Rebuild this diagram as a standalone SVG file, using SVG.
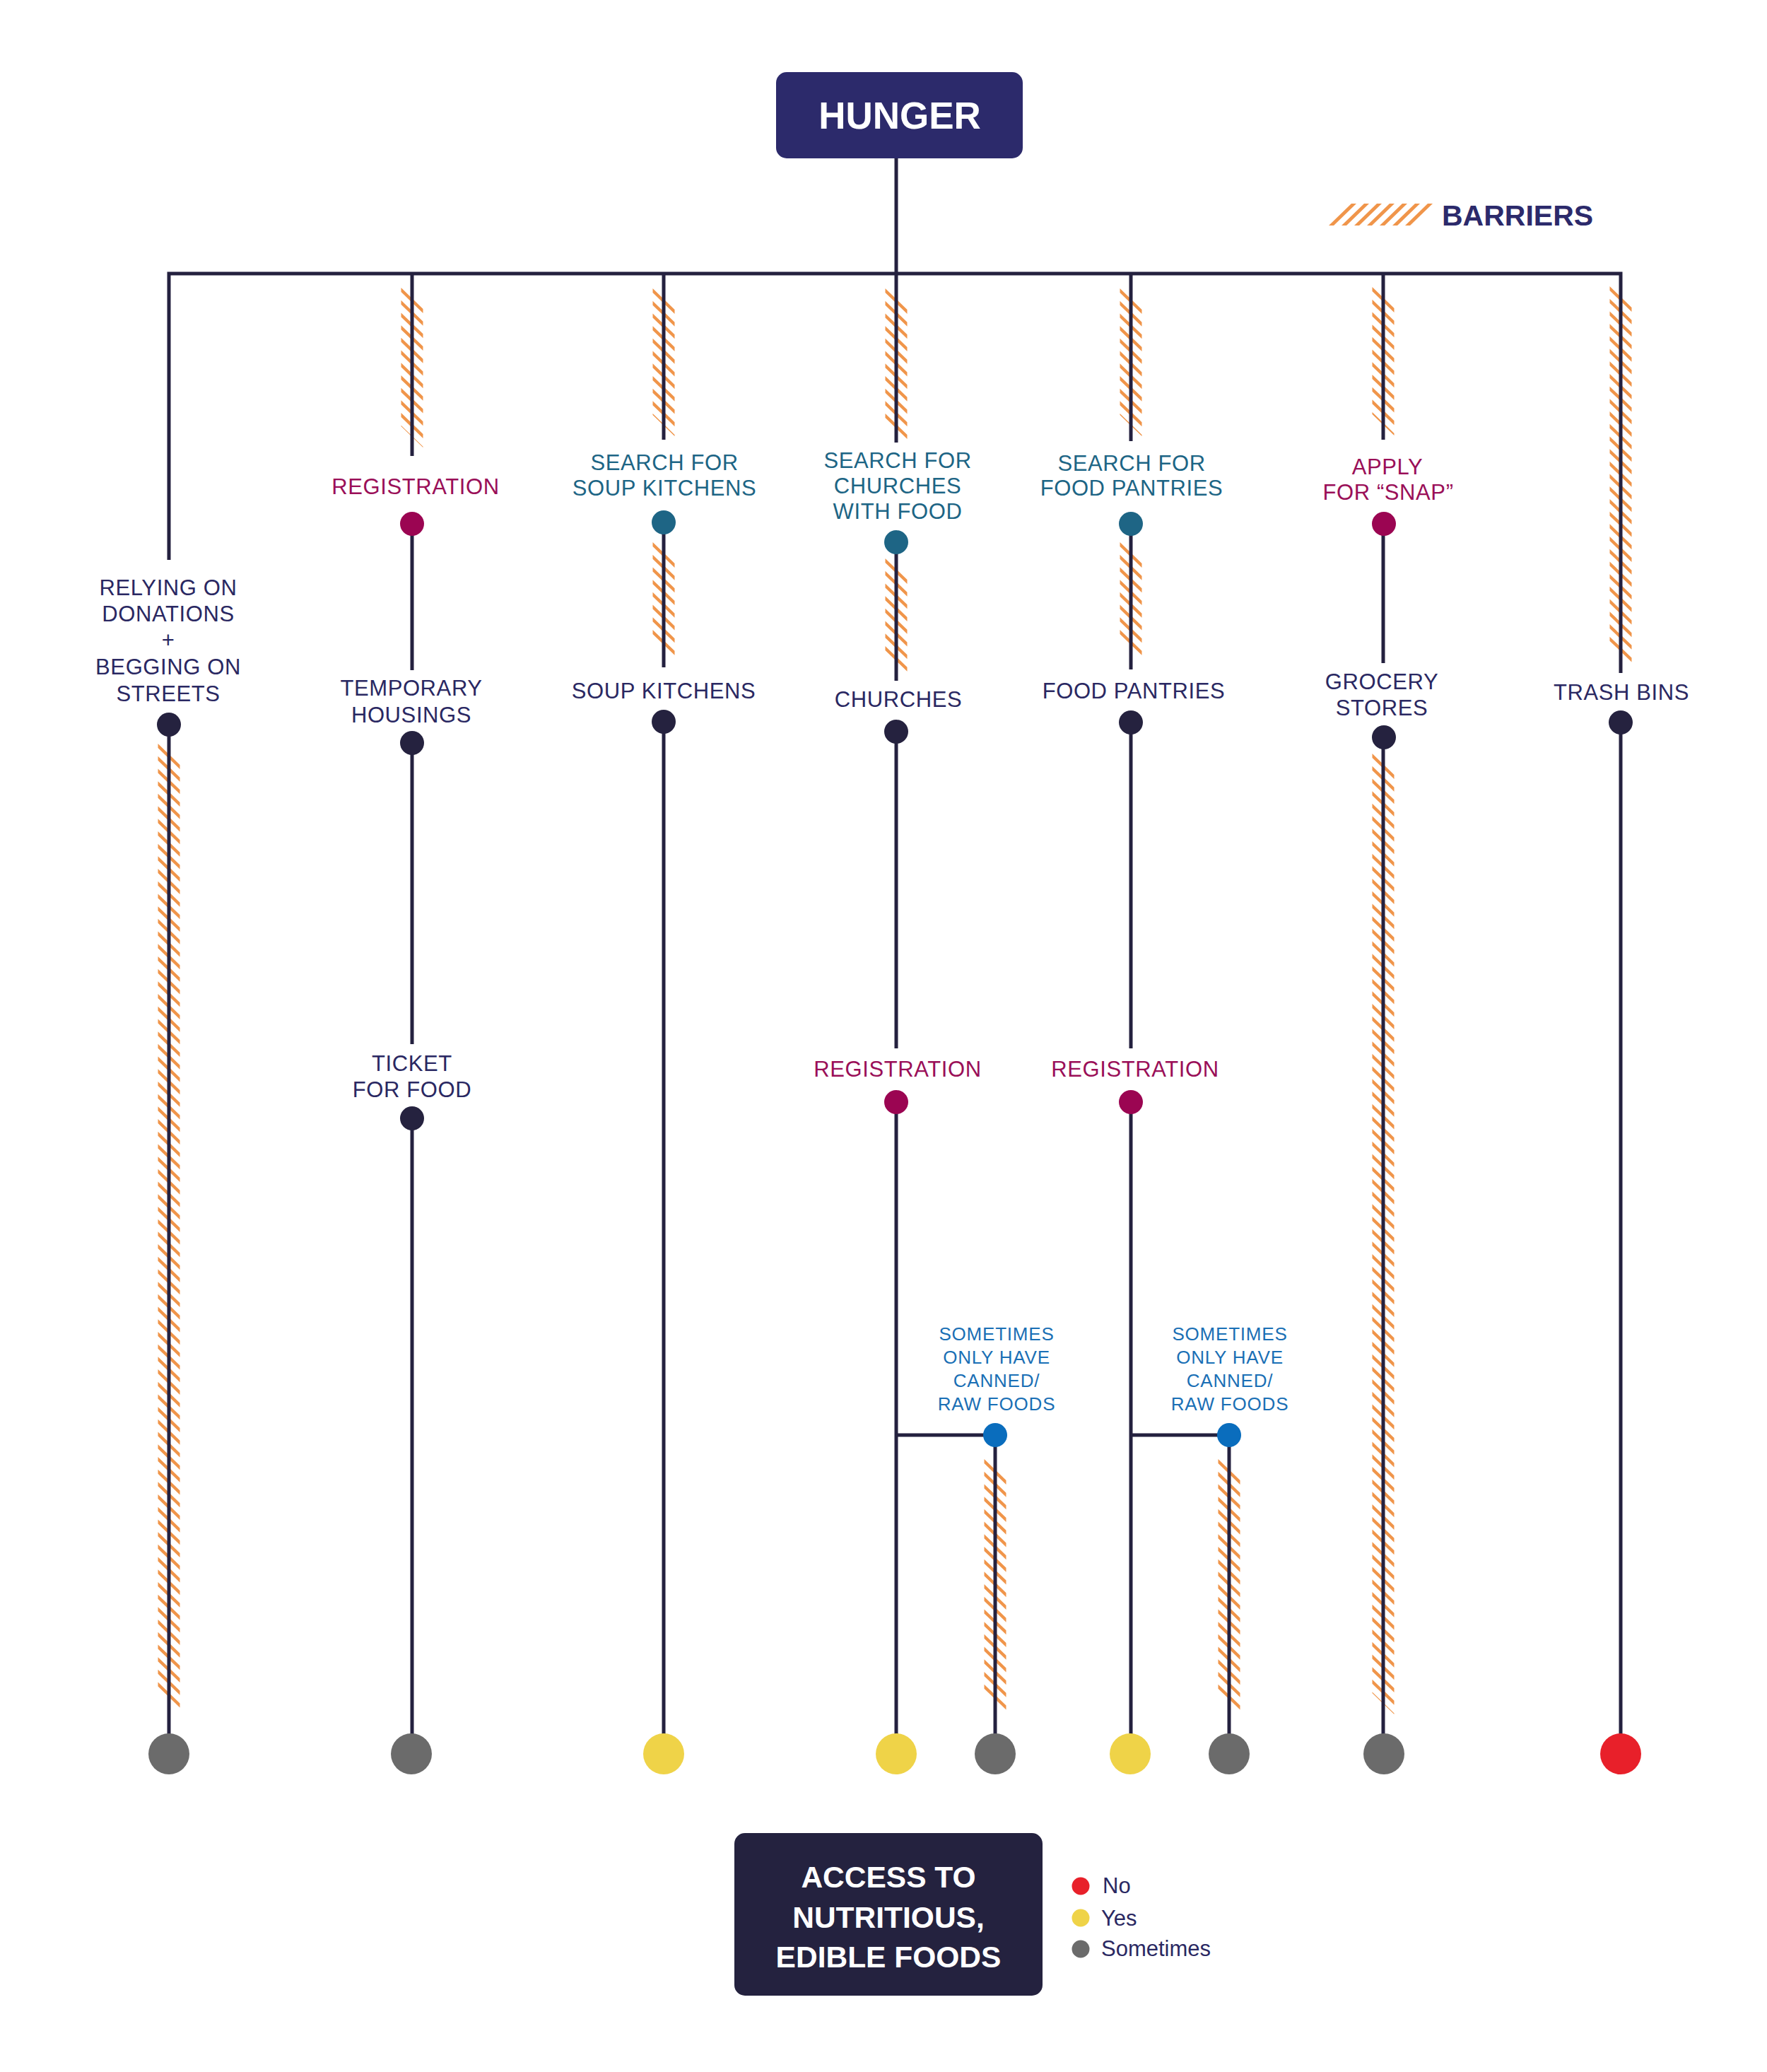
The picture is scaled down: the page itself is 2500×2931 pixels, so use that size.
<svg xmlns="http://www.w3.org/2000/svg" width="2500" height="2931" viewBox="0 0 2500 2931">
<style>
text{font-family:"Liberation Sans",Arial,Helvetica,sans-serif}
.lbl{font-size:31px;letter-spacing:0.6px;text-anchor:middle}
.navy{fill:#2a2862}
.mag{fill:#9a0f58}
.teal{fill:#1d6585}
.blue{fill:#1a6fb5;font-size:26px;letter-spacing:0.8px;text-anchor:middle}
.ln{stroke:#24213f;stroke-width:5;fill:none;stroke-linecap:butt}
.hatch{stroke:#f0954a;stroke-width:31;stroke-dasharray:6 11.7;fill:none}
.dk{fill:#25223f}
.mg{fill:#9b0552}
.tl{fill:#1e6585}
.bl{fill:#0a6dbd}
.gray{fill:#6b6b6b}
.yel{fill:#efd348}
.red{fill:#e8202a}
.box{fill:#2c2a6b}
.box2{fill:#24223f}
.boxt{fill:#ffffff;font-weight:bold;text-anchor:middle}
.leg{fill:#2a2862;font-size:31px}
.bar{fill:#f0954a}
</style>

<g id="barriers">
<line class="hatch" x1="239" y1="1067" x2="239" y2="2410" transform="translate(239 0) skewY(44) translate(-239 0)"/>
<line class="hatch" x1="583" y1="422" x2="583" y2="618" transform="translate(583 0) skewY(44) translate(-583 0)"/>
<line class="hatch" x1="939" y1="423" x2="939" y2="602" transform="translate(939 0) skewY(44) translate(-939 0)"/>
<line class="hatch" x1="939" y1="782" x2="939" y2="916" transform="translate(939 0) skewY(44) translate(-939 0)"/>
<line class="hatch" x1="1268" y1="423" x2="1268" y2="607" transform="translate(1268 0) skewY(44) translate(-1268 0)"/>
<line class="hatch" x1="1268" y1="805" x2="1268" y2="938" transform="translate(1268 0) skewY(44) translate(-1268 0)"/>
<line class="hatch" x1="1600" y1="423" x2="1600" y2="602" transform="translate(1600 0) skewY(44) translate(-1600 0)"/>
<line class="hatch" x1="1600" y1="782" x2="1600" y2="915" transform="translate(1600 0) skewY(44) translate(-1600 0)"/>
<line class="hatch" x1="1957" y1="421" x2="1957" y2="601" transform="translate(1957 0) skewY(44) translate(-1957 0)"/>
<line class="hatch" x1="1957" y1="1081" x2="1957" y2="2410" transform="translate(1957 0) skewY(44) translate(-1957 0)"/>
<line class="hatch" x1="2293" y1="420" x2="2293" y2="932" transform="translate(2293 0) skewY(44) translate(-2293 0)"/>
<line class="hatch" x1="1408" y1="2079" x2="1408" y2="2415" transform="translate(1408 0) skewY(44) translate(-1408 0)"/>
<line class="hatch" x1="1739" y1="2079" x2="1739" y2="2415" transform="translate(1739 0) skewY(44) translate(-1739 0)"/>
</g>

<g id="connectors">
<line class="ln" x1="1268" y1="224" x2="1268" y2="387"/>
<path class="ln" d="M239 792 V387 H2293 V952" stroke-linejoin="miter"/>
<line class="ln" x1="583" y1="387" x2="583" y2="645"/>
<line class="ln" x1="939" y1="387" x2="939" y2="622"/>
<line class="ln" x1="1268" y1="387" x2="1268" y2="626"/>
<line class="ln" x1="1600" y1="387" x2="1600" y2="624"/>
<line class="ln" x1="1957" y1="387" x2="1957" y2="622"/>
<line class="ln" x1="239" y1="1025" x2="239" y2="2481"/>
<line class="ln" x1="583" y1="741" x2="583" y2="948"/>
<line class="ln" x1="583" y1="1051" x2="583" y2="1477"/>
<line class="ln" x1="583" y1="1582" x2="583" y2="2481"/>
<line class="ln" x1="939" y1="739" x2="939" y2="944"/>
<line class="ln" x1="939" y1="1021" x2="939" y2="2481"/>
<line class="ln" x1="1268" y1="767" x2="1268" y2="963"/>
<line class="ln" x1="1268" y1="1035" x2="1268" y2="1483"/>
<line class="ln" x1="1268" y1="1559" x2="1268" y2="2481"/>
<path class="ln" d="M1268 2030 H1408 V2481"/>
<line class="ln" x1="1600" y1="741" x2="1600" y2="947"/>
<line class="ln" x1="1600" y1="1022" x2="1600" y2="1483"/>
<line class="ln" x1="1600" y1="1559" x2="1600" y2="2481"/>
<path class="ln" d="M1600 2030 H1739 V2481"/>
<line class="ln" x1="1957" y1="741" x2="1957" y2="938"/>
<line class="ln" x1="1957" y1="1043" x2="1957" y2="2481"/>
<line class="ln" x1="2293" y1="1022" x2="2293" y2="2481"/>
</g>

<g id="hunger">
<rect class="box" x="1098" y="102" width="349" height="122" rx="15"/>
<text class="boxt" x="1273" y="182" font-size="53">HUNGER</text>
</g>

<g id="legend-barriers">
<polygon class="bar" points="1880,319 1887,319 1919,288 1912,288"/>
<polygon class="bar" points="1898,319 1905,319 1937,288 1930,288"/>
<polygon class="bar" points="1916,319 1923,319 1955,288 1948,288"/>
<polygon class="bar" points="1934,319 1941,319 1973,288 1966,288"/>
<polygon class="bar" points="1952,319 1959,319 1991,288 1984,288"/>
<polygon class="bar" points="1970,319 1977,319 2009,288 2002,288"/>
<polygon class="bar" points="1988,319 1995,319 2027,288 2020,288"/>
<text x="2040" y="319" font-size="41" font-weight="bold" fill="#2c2a6b">BARRIERS</text>
</g>

<g id="relying">
<text class="lbl navy" x="238" y="842">RELYING ON</text>
<text class="lbl navy" x="238" y="879">DONATIONS</text>
<text class="lbl navy" x="238" y="916">+</text>
<text class="lbl navy" x="238" y="954">BEGGING ON</text>
<text class="lbl navy" x="238" y="992">STREETS</text>
<circle class="dk" cx="239" cy="1025" r="17"/>
</g>

<g id="registration-1">
<text class="lbl mag" x="588" y="699">REGISTRATION</text>
<circle class="mg" cx="583" cy="741" r="17"/>
</g>
<g id="temporary-housings">
<text class="lbl navy" x="582" y="984">TEMPORARY</text>
<text class="lbl navy" x="582" y="1022">HOUSINGS</text>
<circle class="dk" cx="583" cy="1051" r="17"/>
</g>
<g id="ticket-for-food">
<text class="lbl navy" x="583" y="1515">TICKET</text>
<text class="lbl navy" x="583" y="1552">FOR FOOD</text>
<circle class="dk" cx="583" cy="1582" r="17"/>
</g>

<g id="search-soup">
<text class="lbl teal" x="940" y="665">SEARCH FOR</text>
<text class="lbl teal" x="940" y="701">SOUP KITCHENS</text>
<circle class="tl" cx="939" cy="739" r="17"/>
</g>
<g id="soup-kitchens">
<text class="lbl navy" x="939" y="988">SOUP KITCHENS</text>
<circle class="dk" cx="939" cy="1021" r="17"/>
</g>

<g id="search-churches">
<text class="lbl teal" x="1270" y="662">SEARCH FOR</text>
<text class="lbl teal" x="1270" y="698">CHURCHES</text>
<text class="lbl teal" x="1270" y="734">WITH FOOD</text>
<circle class="tl" cx="1268" cy="767" r="17"/>
</g>
<g id="churches">
<text class="lbl navy" x="1271" y="1000">CHURCHES</text>
<circle class="dk" cx="1268" cy="1035" r="17"/>
</g>
<g id="registration-2">
<text class="lbl mag" x="1270" y="1523">REGISTRATION</text>
<circle class="mg" cx="1268" cy="1559" r="17"/>
</g>
<g id="canned-1">
<text class="blue" x="1410" y="1896">SOMETIMES</text>
<text class="blue" x="1410" y="1929">ONLY HAVE</text>
<text class="blue" x="1410" y="1962">CANNED/</text>
<text class="blue" x="1410" y="1995">RAW FOODS</text>
<circle class="bl" cx="1408" cy="2030" r="17"/>
</g>

<g id="search-pantries">
<text class="lbl teal" x="1601" y="666">SEARCH FOR</text>
<text class="lbl teal" x="1601" y="701">FOOD PANTRIES</text>
<circle class="tl" cx="1600" cy="741" r="17"/>
</g>
<g id="food-pantries">
<text class="lbl navy" x="1604" y="988">FOOD PANTRIES</text>
<circle class="dk" cx="1600" cy="1022" r="17"/>
</g>
<g id="registration-3">
<text class="lbl mag" x="1606" y="1523">REGISTRATION</text>
<circle class="mg" cx="1600" cy="1559" r="17"/>
</g>
<g id="canned-2">
<text class="blue" x="1740" y="1896">SOMETIMES</text>
<text class="blue" x="1740" y="1929">ONLY HAVE</text>
<text class="blue" x="1740" y="1962">CANNED/</text>
<text class="blue" x="1740" y="1995">RAW FOODS</text>
<circle class="bl" cx="1739" cy="2030" r="17"/>
</g>

<g id="apply-snap">
<text class="lbl mag" x="1963" y="671">APPLY</text>
<text class="lbl mag" x="1964" y="707">FOR “SNAP”</text>
<circle class="mg" cx="1958" cy="741" r="17"/>
</g>
<g id="grocery-stores">
<text class="lbl navy" x="1955" y="975">GROCERY</text>
<text class="lbl navy" x="1955" y="1012">STORES</text>
<circle class="dk" cx="1958" cy="1043" r="17"/>
</g>

<g id="trash-bins">
<text class="lbl navy" x="2294" y="990">TRASH BINS</text>
<circle class="dk" cx="2293" cy="1022" r="17"/>
</g>

<g id="outcomes">
<circle class="gray" cx="239" cy="2481" r="29"/>
<circle class="gray" cx="582" cy="2481" r="29"/>
<circle class="yel" cx="939" cy="2481" r="29"/>
<circle class="yel" cx="1268" cy="2481" r="29"/>
<circle class="gray" cx="1408" cy="2481" r="29"/>
<circle class="yel" cx="1599" cy="2481" r="29"/>
<circle class="gray" cx="1739" cy="2481" r="29"/>
<circle class="gray" cx="1958" cy="2481" r="29"/>
<circle class="red" cx="2293" cy="2481" r="29"/>
</g>

<g id="access">
<rect class="box2" x="1039" y="2593" width="436" height="230" rx="15"/>
<text class="boxt" x="1257" y="2670" font-size="42.5">ACCESS TO</text>
<text class="boxt" x="1257" y="2727" font-size="42.5">NUTRITIOUS,</text>
<text class="boxt" x="1257" y="2783" font-size="42.5">EDIBLE FOODS</text>
</g>

<g id="legend-access">
<circle class="red" cx="1529" cy="2668" r="12.5"/>
<text class="leg" x="1560" y="2678">No</text>
<circle class="yel" cx="1529" cy="2713" r="12.5"/>
<text class="leg" x="1558" y="2724">Yes</text>
<circle class="gray" cx="1529" cy="2757" r="12.5"/>
<text class="leg" x="1558" y="2767">Sometimes</text>
</g>
</svg>
